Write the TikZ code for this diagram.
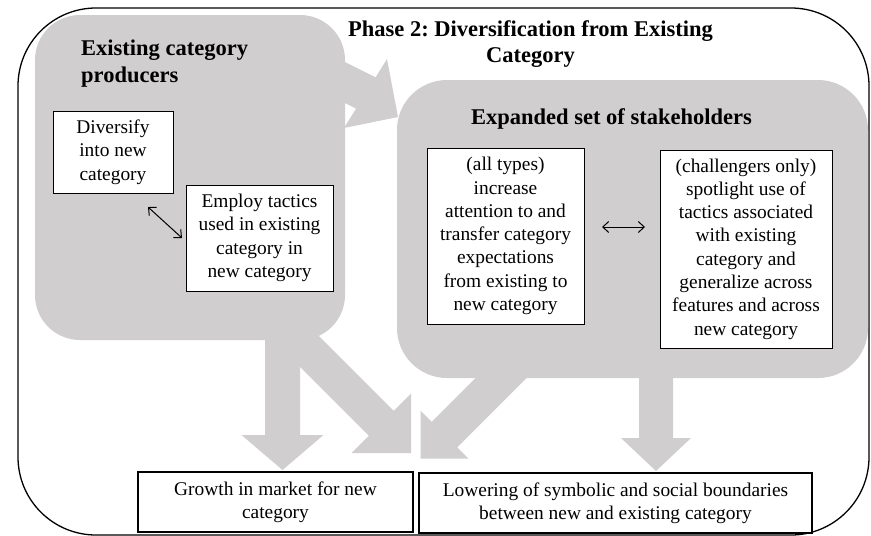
\documentclass[tikz,border=0pt]{standalone}
\usepackage{fontspec}
\setmainfont{Liberation Serif}
\usetikzlibrary{arrows.meta}
\definecolor{panelgray}{RGB}{208,206,207}
\frenchspacing
\begin{document}
\begin{tikzpicture}[x=1pt,y=-1pt,
  panel/.style={fill=panelgray},
  blockarrow/.style={fill=panelgray},
  note/.style={draw=black,fill=white,line width=1pt,inner sep=0pt,align=center,
    font=\fontsize{19.4}{23.3}\selectfont},
  outcome/.style={note,line width=2.4pt},
  headtext/.style={inner sep=0pt,font=\fontsize{22.5}{27}\selectfont\bfseries},
  twoway/.style={line width=1pt,
    {Straight Barb[length=6pt,width=11pt]}-{Straight Barb[length=6pt,width=11pt]}}
]
\useasboundingbox (0,0) rectangle (871,536);

% outer phase frame
\draw[line width=1.3pt,rounded corners=78pt] (18,8) rectangle (869,535);

% grey panels
\fill[panel,rounded corners=45pt] (35,15) rectangle (345,340);
\fill[panel,rounded corners=50pt] (397,80) rectangle (868,378);

% block arrow: producers -> stakeholders
\fill[blockarrow] (320,49.5) -- (375.6,77.3) -- (387,59) -- (398,117)
  -- (344,128) -- (356.1,108.6) -- (320,90.5) -- cycle;
% block arrows out of the producers panel
\fill[blockarrow] (265,330) -- (300,330) -- (300,435) -- (323.5,435)
  -- (282.5,470) -- (241.5,435) -- (265,435) -- cycle;
\fill[blockarrow] (233.25,300) -- (283,300.25) -- (393.7,410.9) -- (411,393.6)
  -- (411,453) -- (351.6,453) -- (368.9,435.7) -- cycle;
% block arrows out of the stakeholders panel
\fill[blockarrow] (493.5,360) -- (544.5,360) -- (457.25,447.25) -- (468.5,458.5)
  -- (420.5,458.5) -- (420.5,410.5) -- (431.75,421.75) -- cycle;
\fill[blockarrow] (639,360) -- (673,360) -- (673,438) -- (691,438)
  -- (656,471) -- (621,438) -- (639,438) -- cycle;

% headings
\node[headtext,font=\fontsize{22.5}{26}\selectfont\bfseries,anchor=base] (title) at (530.5,36)
  {\vtop{\hbox to 0pt{\hss Phase 2: Diversification from Existing\hss}\hbox to 0pt{\hss Category\hss}}};
\node[headtext,anchor=base west] (prodhead) at (81,55)
  {\vtop{\hbox{Existing category}\hbox{producers}}};
\node[headtext,anchor=base] (stakehead) at (611.5,124) {Expanded set of stakeholders};

% producer actions
\node[note,minimum width=120pt,minimum height=82pt] (div) at (113,152)
  {Diversify\\into new\\category};
\node[note,minimum width=147pt,minimum height=106pt] (employ) at (259.5,238)
  {Employ tactics\\used in existing\\category in\\new category};

% stakeholder actions
\node[note,minimum width=157pt,minimum height=176pt] (alltypes) at (505.5,236)
  {(all types)\\increase\\attention to and\\transfer category\\expectations\\from existing to\\new category};
\node[note,minimum width=172pt,minimum height=198pt] (challengers) at (746,249)
  {(challengers only)\\spotlight use of\\tactics associated\\with existing\\category and\\generalize across\\features and across\\new category};

% outcomes
\node[outcome,minimum width=275pt,minimum height=60pt] (growth) at (275.5,502)
  {Growth in market for new\\category};
\node[outcome,minimum width=393pt,minimum height=60pt] (lowering) at (615.5,503)
  {Lowering of symbolic and social boundaries\\between new and existing category};

% two-way links
\coordinate (dlA) at (148,207);
\coordinate (dlB) at (182,238);
\coordinate (drA) at (602,227);
\coordinate (drB) at (645,227);
\draw[twoway] (dlA) -- (dlB);
\draw[twoway] (drA) -- (drB);
\end{tikzpicture}
\end{document}
